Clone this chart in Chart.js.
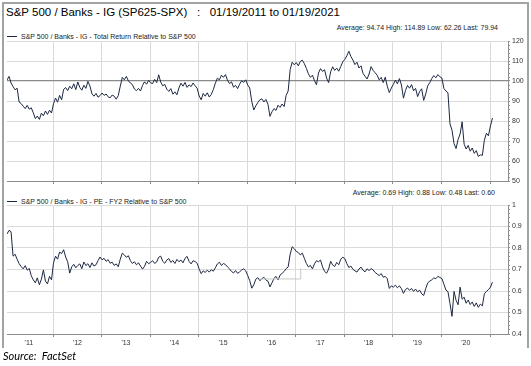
<!DOCTYPE html>
<html>
<head>
<meta charset="utf-8">
<script src="https://cdn.jsdelivr.net/npm/chart.js@4.4.1/dist/chart.umd.min.js"></script>
<style>
    html, body { margin: 0; padding: 0; background: #fff; }
    body { width: 531px; height: 366px; position: relative; overflow: hidden; font-family: "Liberation Sans", Arial, sans-serif; }
    .frame { position: absolute; left: 2px; top: 2px; width: 523px; height: 344px; border: 2px solid #a3a3a3; border-bottom: none; }
    .txt { position: absolute; white-space: nowrap; color: #222; line-height: 1; }
    .title { left: 6px; top: 7px; font-size: 11.5px; color: #000; }
    .stats { font-size: 7px; text-align: right; right: 33px; }
    .legend { left: 7px; font-size: 7px; }
    .legend i { display: inline-block; width: 10px; height: 1px; background: #1c2841; vertical-align: middle; margin-right: 4px; position: relative; top: -1px; }
    .source { left: 3px; top: 350px; font-size: 11px; font-style: italic; font-family: Lato, "Open Sans", sans-serif; color: #000; }
    canvas { position: absolute; left: 0; }
</style>
</head>
<body>
<div class="frame"></div>
<div class="txt title">S&amp;P 500 / Banks - IG (SP625-SPX)&nbsp;&nbsp;&nbsp;:&nbsp;&nbsp;&nbsp;01/19/2011 to 01/19/2021</div>
<div class="txt stats" style="top:24px">Average: 94.74 High: 114.89 Low: 62.26 Last: 79.94</div>
<div class="txt legend" style="top:33px"><i></i>S&amp;P 500 / Banks - IG - Total Return Relative to S&amp;P 500</div>
<canvas id="trChart" width="531" height="152" style="top:34px"></canvas>
<div class="txt stats" style="top:189px;right:36px">Average: 0.69 High: 0.88 Low: 0.48 Last: 0.60</div>
<div class="txt legend" style="top:198px"><i></i>S&amp;P 500 / Banks - IG - PE - FY2 Relative to S&amp;P 500</div>
<canvas id="peChart" width="531" height="152" style="top:198px"></canvas>
<div class="txt source">Source:&nbsp; FactSet</div>

<script>
// ── Veri: yarım aylık örnekler, 19.01.2011 → 19.01.2021 ──────────────────
const startYear = 2011.05;
const stepYear = 1 / 24;

const yearLabels = ["'11", "'12", "'13", "'14", "'15", "'16", "'17", "'18", "'19", "'20"];
const yearStarts = [2012, 2013, 2014, 2015, 2016, 2017, 2018, 2019, 2020, 2021];

// Total Return Relative to S&P 500
const totalReturn = [
    100.5, 102.3, 99.0, 97.2, 95.6, 96.4, 89.5, 88.7, 87.4, 86.2, 87.8, 85.9, 86.6, 84.1, 81.2, 82.5, 80.8, 83.9, 82.6, 85.0, 83.3, 85.4, 84.0, 88.6,
    91.5, 89.4, 92.8, 90.6, 95.8, 96.7, 95.2, 97.4, 96.1, 98.6, 95.7, 99.5, 96.8, 95.4, 97.9, 96.3, 99.8, 97.5, 93.6, 92.4, 93.8, 91.9, 92.7, 94.0,
    92.8, 93.5, 92.1, 91.6, 93.0, 92.4, 90.9, 92.7, 97.4, 101.8, 100.6, 102.3, 100.1, 99.0, 98.2, 96.0, 95.2, 96.3, 95.0, 97.8, 99.6, 98.4, 100.3, 99.1,
    98.7, 100.8, 99.2, 103.1, 99.4, 97.6, 98.3, 95.9, 94.8, 96.2, 93.4, 94.6, 93.1, 96.5, 98.9, 97.4, 99.3, 96.8, 98.1, 97.2, 99.0, 97.6, 96.4, 92.5,
    90.6, 93.8, 92.4, 94.1, 92.0, 93.3, 95.7, 98.9, 101.4, 100.6, 102.9, 101.8, 103.2, 100.4, 98.7, 99.6, 96.9, 97.8, 96.2, 98.4, 100.1, 99.3, 100.6, 98.0,
    96.5, 89.8, 85.5, 87.6, 89.2, 90.6, 91.1, 89.5, 90.8, 88.4, 82.3, 84.6, 86.2, 85.3, 87.9, 86.8, 88.5, 87.2, 92.8, 95.0, 105.8, 109.4, 108.1, 109.2,
    107.6, 109.8, 110.4, 108.7, 106.3, 103.6, 101.8, 102.9, 100.2, 98.1, 104.0, 106.2, 104.8, 105.6, 101.4, 99.2, 104.6, 107.1, 105.3, 106.4, 104.9, 107.3, 109.6, 110.8,
    112.6, 114.9, 112.3, 110.5, 108.2, 109.4, 106.5, 107.6, 103.8, 102.4, 101.0, 103.5, 107.2, 105.3, 104.1, 102.9, 100.6, 101.8, 99.2, 101.9, 97.4, 94.2, 96.5, 98.3,
    100.4, 98.6, 101.2, 98.0, 91.4, 95.3, 97.8, 96.4, 98.2, 95.1, 96.3, 92.2, 94.8, 96.1, 90.3, 93.5, 97.6, 99.2, 101.3, 102.7, 101.6, 103.2, 102.1, 101.5,
    96.2, 95.0, 94.1, 78.6, 75.4, 68.7, 66.2, 70.8, 73.5, 79.6, 68.4, 66.0, 67.8, 64.9, 66.5, 63.8, 65.2, 62.3, 63.1, 62.8, 70.4, 73.9, 72.6, 77.5, 81.5
];

// PE - FY2 Relative to S&P 500
const peRelative = [
    0.865, 0.882, 0.876, 0.762, 0.771, 0.748, 0.727, 0.714, 0.703, 0.718, 0.697, 0.705, 0.671, 0.652, 0.638, 0.661, 0.629, 0.655, 0.698, 0.646, 0.633, 0.668, 0.652, 0.731,
    0.762, 0.748, 0.781, 0.774, 0.792, 0.758, 0.736, 0.683, 0.712, 0.724, 0.708, 0.719, 0.726, 0.704, 0.735, 0.718, 0.727, 0.709, 0.731, 0.716, 0.722, 0.741, 0.758, 0.745,
    0.752, 0.738, 0.746, 0.729, 0.734, 0.719, 0.726, 0.713, 0.748, 0.776, 0.768, 0.757, 0.764, 0.741, 0.728, 0.736, 0.722, 0.731, 0.716, 0.702, 0.715, 0.738, 0.727, 0.733,
    0.741, 0.728, 0.735, 0.757, 0.762, 0.738, 0.729, 0.744, 0.751, 0.733, 0.742, 0.728, 0.747, 0.736, 0.744, 0.731, 0.752, 0.761, 0.738, 0.726, 0.741, 0.737, 0.729, 0.702,
    0.681, 0.694, 0.686, 0.697, 0.688, 0.699, 0.692, 0.708, 0.726, 0.734, 0.719, 0.728, 0.723, 0.712, 0.703, 0.691, 0.684, 0.695, 0.682, 0.689, 0.698, 0.703, 0.694, 0.672,
    0.648, 0.613, 0.629, 0.655, 0.662, 0.648, 0.657, 0.664, 0.651, 0.646, 0.619, 0.638, 0.659, 0.668, 0.651, 0.674, 0.682, 0.691, 0.704, 0.712, 0.772, 0.806, 0.797, 0.784,
    0.779, 0.768, 0.776, 0.752, 0.728, 0.712, 0.719, 0.703, 0.726, 0.741, 0.736, 0.744, 0.712, 0.691, 0.683, 0.702, 0.738, 0.721, 0.714, 0.733, 0.722, 0.748, 0.757, 0.751,
    0.728, 0.709, 0.716, 0.701, 0.694, 0.688, 0.702, 0.711, 0.697, 0.689, 0.703, 0.695, 0.704, 0.698, 0.686, 0.679, 0.672, 0.681, 0.664, 0.668, 0.657, 0.612, 0.624, 0.618,
    0.627, 0.615, 0.624, 0.611, 0.589, 0.607, 0.614, 0.603, 0.612, 0.598, 0.609, 0.596, 0.604, 0.587, 0.579, 0.611, 0.638, 0.646, 0.652, 0.661, 0.657, 0.668, 0.663, 0.658,
    0.632, 0.604, 0.597, 0.541, 0.482, 0.598, 0.557, 0.536, 0.618, 0.562, 0.571, 0.543, 0.558, 0.537, 0.549, 0.528, 0.545, 0.524, 0.539, 0.531, 0.587, 0.598, 0.606, 0.618, 0.641
];

// açık gri basamak çizgisi (2016 civarı)
const stepX = [2016.25, 2017.10, 2017.10];
const stepY = [0.656, 0.656, 0.705];

// ── Ortak Yardımcılar ──────────────────────────────────────────────────────
const LINE = '#1c2841';
const GRID = '#dadada';
const AXIS = '#8c8c8c';
const FONT = { family: '"Liberation Sans", Arial, sans-serif', size: 7 };

function toPoints(values) {
    return values.map((v, i) => ({ x: startYear + i * stepYear, y: v }));
}

function xAxis(showLabels) {
    return {
        type: 'linear',
        min: startYear,
        max: 2021.37,
        afterBuildTicks: axis => {
            const ticks = [{ value: startYear }];
            yearStarts.forEach((y, i) => {
                ticks.push({ value: y - 0.5 });
                ticks.push({ value: y });
            });
            axis.ticks = ticks;
        },
        afterFit: s => {
            s.height = showLabels ? 16 : 5;
            s.paddingLeft = s.paddingRight = s.paddingTop = s.paddingBottom = 0;
        },
        border: { color: AXIS, width: 1 },
        grid: {
            color: ctx => Number.isInteger(ctx.tick.value) ? GRID : 'transparent',
            tickColor: ctx => Number.isInteger(ctx.tick.value) ? AXIS : 'transparent',
            tickLength: 3,
            lineWidth: 1
        },
        ticks: {
            display: showLabels,
            autoSkip: false,
            maxRotation: 0,
            padding: 2,
            color: '#333',
            font: FONT,
            callback: v => Number.isInteger(v) || v === startYear ? '' : yearLabels[Math.floor(v) - 2011]
        }
    };
}

function yAxis(min, max, step, isMajor, isRef, fmt) {
    return {
        position: 'right',
        min, max,
        afterFit: s => {
            s.width = 23;
            s.paddingLeft = s.paddingRight = s.paddingTop = s.paddingBottom = 0;
        },
        border: { color: AXIS, width: 1 },
        grid: {
            color: ctx => isRef(ctx.tick.value) ? '#8a8a8a' : (isMajor(ctx.tick.value) ? GRID : 'transparent'),
            tickColor: '#9a9a9a',
            tickLength: 2,
            lineWidth: ctx => isRef(ctx.tick.value) ? 1.2 : 1
        },
        ticks: {
            stepSize: step,
            autoSkip: false,
            padding: 2,
            color: '#333',
            font: FONT,
            callback: v => isMajor(v) ? fmt(v) : ''
        }
    };
}

function baseOptions(xa, ya) {
    return {
        responsive: false,
        animation: false,
        layout: { padding: { left: 7, top: 7, right: 0, bottom: 0 } },
        plugins: { legend: { display: false }, tooltip: { enabled: false } },
        elements: { point: { radius: 0 }, line: { tension: 0 } },
        scales: { x: xa, y: ya }
    };
}

// ── Üst Panel: Toplam Getiri ───────────────────────────────────────────────
new Chart(document.getElementById('trChart').getContext('2d'), {
    type: 'line',
    data: {
        datasets: [{
            data: toPoints(totalReturn),
            borderColor: LINE,
            borderWidth: 1
        }]
    },
    options: baseOptions(
        xAxis(false),
        yAxis(50, 120, 2,
            v => Math.round(v) % 10 === 0,
            v => Math.round(v) === 100,
            v => String(Math.round(v)))
    )
});

// ── Alt Panel: PE FY2 ──────────────────────────────────────────────────────
new Chart(document.getElementById('peChart').getContext('2d'), {
    type: 'line',
    data: {
        datasets: [{
            data: stepX.map((x, i) => ({ x, y: stepY[i] })),
            borderColor: '#c8c8c8',
            borderWidth: 1
        }, {
            data: toPoints(peRelative),
            borderColor: LINE,
            borderWidth: 1
        }]
    },
    options: baseOptions(
        xAxis(true),
        yAxis(0.4, 1, 0.02,
            v => Math.round(v * 100) % 10 === 0,
            v => false,
            v => String(Math.round(v * 10) / 10))
    )
});
</script>
</body>
</html>
